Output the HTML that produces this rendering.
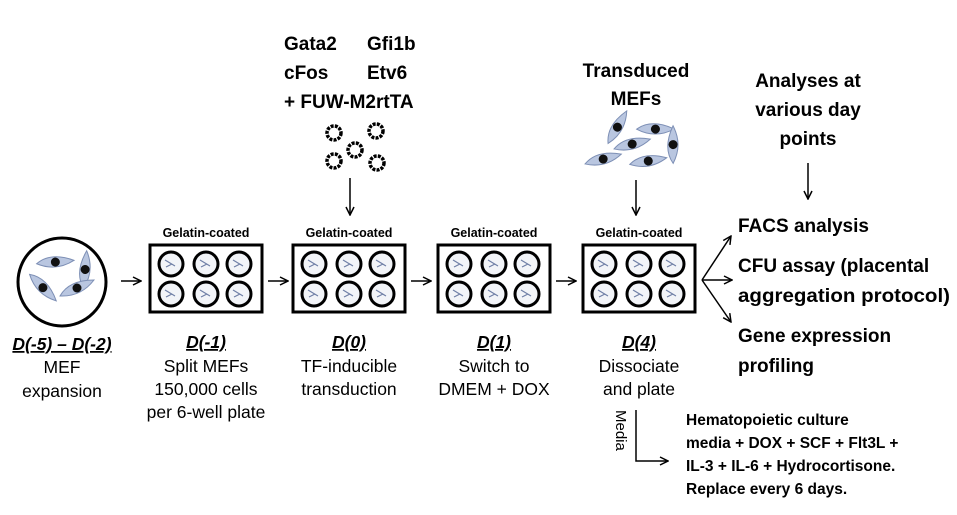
<!DOCTYPE html>
<html><head><meta charset="utf-8"><style>
html,body{margin:0;padding:0;background:#fff;}
svg{display:block;}
text{font-family:"Liberation Sans",sans-serif;fill:#000;}
.b{font-weight:bold;}
</style></head><body>
<svg width="957" height="515" viewBox="0 0 957 515" xmlns="http://www.w3.org/2000/svg">
<defs>
<marker id="ah" viewBox="0 0 10 10" refX="9" refY="5" markerWidth="10" markerHeight="10" markerUnits="userSpaceOnUse" orient="auto">
<path d="M1,1 L9,5 L1,9" fill="none" stroke="#000" stroke-width="1.5"/>
</marker>
<g id="cell">
<path d="M-17,7 Q-8,-9 17,-9 Q4,8 -17,7Z" fill="#b9c6e0" stroke="#7d8fb5" stroke-width="1"/>
<circle cx="0" cy="-1" r="4.5" fill="#111"/>
</g>
<g id="plate">
<rect x="0" y="0" width="112" height="67" fill="#fff" stroke="#000" stroke-width="3"/>
<g fill="#f2f4f8" stroke="#000" stroke-width="3">
<circle cx="21" cy="19" r="12"/><circle cx="56" cy="19" r="12"/><circle cx="89" cy="19" r="12"/>
<circle cx="21" cy="49" r="12"/><circle cx="56" cy="49" r="12"/><circle cx="89" cy="49" r="12"/>
</g>
<g stroke="#6f7fa6" stroke-width="1.2">
<path d="M15,15 l10,6 M16,22 l6,-3"/><path d="M50,15 l10,6 M51,22 l6,-3"/><path d="M83,15 l10,6 M84,22 l6,-3"/>
<path d="M15,45 l10,6 M16,52 l6,-3"/><path d="M50,45 l10,6 M51,52 l6,-3"/><path d="M83,45 l10,6 M84,52 l6,-3"/>
</g>
</g>
<g id="virus"><circle r="7" fill="none" stroke="#000" stroke-width="3.5" stroke-dasharray="3 1.2"/></g>
</defs>

<circle cx="62" cy="282" r="44" fill="#fff" stroke="#000" stroke-width="3"/>
<use href="#cell" transform="translate(55,263) rotate(20)"/>
<use href="#cell" transform="translate(86,270) rotate(-60)"/>
<use href="#cell" transform="translate(42,288) rotate(70)"/>
<use href="#cell" transform="translate(77,289) rotate(0)"/>

<use href="#plate" x="150" y="245"/>
<use href="#plate" x="293" y="245"/>
<use href="#plate" x="438" y="245"/>
<use href="#plate" x="583" y="245"/>
<g font-size="12.5" text-anchor="middle">
<text x="206" y="237" class="b">Gelatin-coated</text>
<text x="349" y="237" class="b">Gelatin-coated</text>
<text x="494" y="237" class="b">Gelatin-coated</text>
<text x="639" y="237" class="b">Gelatin-coated</text>
</g>

<g stroke="#000" stroke-width="1.5" marker-end="url(#ah)">
<line x1="121" y1="281" x2="141" y2="281"/>
<line x1="268" y1="281" x2="288" y2="281"/>
<line x1="411" y1="281" x2="431" y2="281"/>
<line x1="556" y1="281" x2="576" y2="281"/>
<line x1="350" y1="178" x2="350" y2="215"/>
<line x1="636" y1="180" x2="636" y2="215"/>
<line x1="808" y1="163" x2="808" y2="199"/>
<line x1="702" y1="280" x2="731" y2="236"/>
<line x1="702" y1="280" x2="732" y2="280"/>
<line x1="702" y1="280" x2="731" y2="322"/>
</g>
<path d="M636,410 L636,461 L668,461" fill="none" stroke="#000" stroke-width="1.5" marker-end="url(#ah)"/>
<text transform="translate(616,410) rotate(90)" font-size="15">Media</text>

<g font-size="19">
<text x="284" y="50" class="b">Gata2</text>
<text x="367" y="50" class="b">Gfi1b</text>
<text x="284" y="79" class="b">cFos</text>
<text x="367" y="79" class="b">Etv6</text>
<text x="284" y="108" class="b">+ FUW-M2rtTA</text>
</g>
<use href="#virus" x="334" y="133"/>
<use href="#virus" x="376" y="131"/>
<use href="#virus" x="355" y="150"/>
<use href="#virus" x="334" y="161"/>
<use href="#virus" x="377" y="163"/>

<g font-size="19" text-anchor="middle">
<text x="636" y="77" class="b">Transduced</text>
<text x="636" y="105" class="b">MEFs</text>
<text x="808" y="87" class="b">Analyses at</text>
<text x="808" y="116" class="b">various day</text>
<text x="808" y="145" class="b">points</text>
</g>
<use href="#cell" transform="translate(618,128) rotate(-35)"/>
<use href="#cell" transform="translate(655,130) rotate(25)"/>
<use href="#cell" transform="translate(632,145) rotate(10)"/>
<use href="#cell" transform="translate(674,145) rotate(-65)"/>
<use href="#cell" transform="translate(603,160) rotate(10)"/>
<use href="#cell" transform="translate(648,162) rotate(15)"/>

<g font-size="19">
<text x="738" y="232" class="b">FACS analysis</text>
<text x="738" y="272" class="b">CFU assay (placental</text>
<text x="738" y="302" class="b" textLength="212" lengthAdjust="spacingAndGlyphs">aggregation protocol)</text>
<text x="738" y="342" class="b">Gene expression</text>
<text x="738" y="372" class="b">profiling</text>
</g>

<g font-size="17.5" text-anchor="middle">
<text x="62" y="350" font-weight="bold" font-style="italic" text-decoration="underline">D(-5) – D(-2)</text>
<text x="62" y="373">MEF</text>
<text x="62" y="397">expansion</text>
<text x="206" y="348" font-weight="bold" font-style="italic" text-decoration="underline">D(-1)</text>
<text x="206" y="372">Split MEFs</text>
<text x="206" y="395">150,000 cells</text>
<text x="206" y="418">per 6-well plate</text>
<text x="349" y="348" font-weight="bold" font-style="italic" text-decoration="underline">D(0)</text>
<text x="349" y="372">TF-inducible</text>
<text x="349" y="395">transduction</text>
<text x="494" y="348" font-weight="bold" font-style="italic" text-decoration="underline">D(1)</text>
<text x="494" y="372">Switch to</text>
<text x="494" y="395">DMEM + DOX</text>
<text x="639" y="348" font-weight="bold" font-style="italic" text-decoration="underline">D(4)</text>
<text x="639" y="372">Dissociate</text>
<text x="639" y="395">and plate</text>
</g>

<g font-size="15.5">
<text x="686" y="425" class="b">Hematopoietic culture</text>
<text x="686" y="448" class="b">media + DOX + SCF + Flt3L +</text>
<text x="686" y="471" class="b">IL-3 + IL-6 + Hydrocortisone.</text>
<text x="686" y="494" class="b">Replace every 6 days.</text>
</g>
</svg>
</body></html>
